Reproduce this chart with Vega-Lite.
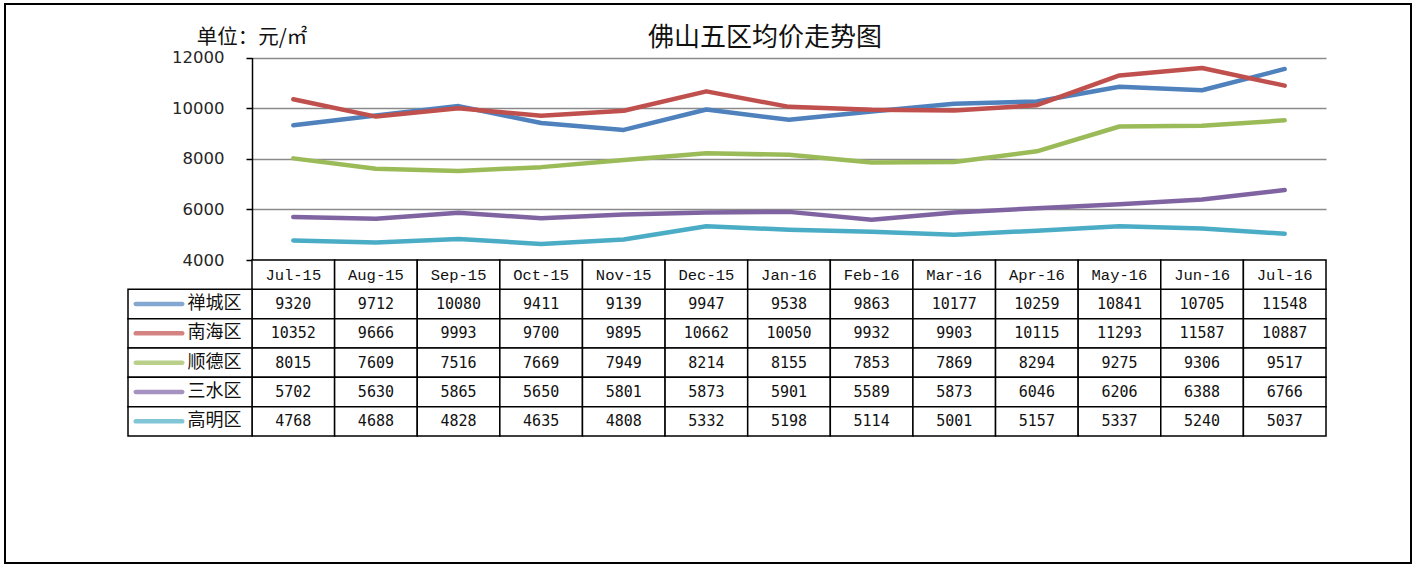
{
  "$schema": "https://vega.github.io/schema/vega-lite/v6.json",
  "width": 1406,
  "height": 559,
  "autosize": {"type": "none"},
  "padding": {"left": 5, "top": 4, "right": 6, "bottom": 2},
  "background": "white",
  "title": {
    "text": "佛山五区均价走势图",
    "font": "Noto Sans CJK SC",
    "fontSize": 26,
    "fontWeight": "normal",
    "color": "#111111",
    "baseline": "middle",
    "offset": -60,
    "dx": 57
  },
  "config": {
    "view": {"stroke": "black", "strokeWidth": 2}
  },
  "datasets": {
    "prices": [
      {"month": "Jul-15", "district": "禅城区", "price": 9320},
      {"month": "Aug-15", "district": "禅城区", "price": 9712},
      {"month": "Sep-15", "district": "禅城区", "price": 10080},
      {"month": "Oct-15", "district": "禅城区", "price": 9411},
      {"month": "Nov-15", "district": "禅城区", "price": 9139},
      {"month": "Dec-15", "district": "禅城区", "price": 9947},
      {"month": "Jan-16", "district": "禅城区", "price": 9538},
      {"month": "Feb-16", "district": "禅城区", "price": 9863},
      {"month": "Mar-16", "district": "禅城区", "price": 10177},
      {"month": "Apr-16", "district": "禅城区", "price": 10259},
      {"month": "May-16", "district": "禅城区", "price": 10841},
      {"month": "Jun-16", "district": "禅城区", "price": 10705},
      {"month": "Jul-16", "district": "禅城区", "price": 11548},
      {"month": "Jul-15", "district": "南海区", "price": 10352},
      {"month": "Aug-15", "district": "南海区", "price": 9666},
      {"month": "Sep-15", "district": "南海区", "price": 9993},
      {"month": "Oct-15", "district": "南海区", "price": 9700},
      {"month": "Nov-15", "district": "南海区", "price": 9895},
      {"month": "Dec-15", "district": "南海区", "price": 10662},
      {"month": "Jan-16", "district": "南海区", "price": 10050},
      {"month": "Feb-16", "district": "南海区", "price": 9932},
      {"month": "Mar-16", "district": "南海区", "price": 9903},
      {"month": "Apr-16", "district": "南海区", "price": 10115},
      {"month": "May-16", "district": "南海区", "price": 11293},
      {"month": "Jun-16", "district": "南海区", "price": 11587},
      {"month": "Jul-16", "district": "南海区", "price": 10887},
      {"month": "Jul-15", "district": "顺德区", "price": 8015},
      {"month": "Aug-15", "district": "顺德区", "price": 7609},
      {"month": "Sep-15", "district": "顺德区", "price": 7516},
      {"month": "Oct-15", "district": "顺德区", "price": 7669},
      {"month": "Nov-15", "district": "顺德区", "price": 7949},
      {"month": "Dec-15", "district": "顺德区", "price": 8214},
      {"month": "Jan-16", "district": "顺德区", "price": 8155},
      {"month": "Feb-16", "district": "顺德区", "price": 7853},
      {"month": "Mar-16", "district": "顺德区", "price": 7869},
      {"month": "Apr-16", "district": "顺德区", "price": 8294},
      {"month": "May-16", "district": "顺德区", "price": 9275},
      {"month": "Jun-16", "district": "顺德区", "price": 9306},
      {"month": "Jul-16", "district": "顺德区", "price": 9517},
      {"month": "Jul-15", "district": "三水区", "price": 5702},
      {"month": "Aug-15", "district": "三水区", "price": 5630},
      {"month": "Sep-15", "district": "三水区", "price": 5865},
      {"month": "Oct-15", "district": "三水区", "price": 5650},
      {"month": "Nov-15", "district": "三水区", "price": 5801},
      {"month": "Dec-15", "district": "三水区", "price": 5873},
      {"month": "Jan-16", "district": "三水区", "price": 5901},
      {"month": "Feb-16", "district": "三水区", "price": 5589},
      {"month": "Mar-16", "district": "三水区", "price": 5873},
      {"month": "Apr-16", "district": "三水区", "price": 6046},
      {"month": "May-16", "district": "三水区", "price": 6206},
      {"month": "Jun-16", "district": "三水区", "price": 6388},
      {"month": "Jul-16", "district": "三水区", "price": 6766},
      {"month": "Jul-15", "district": "高明区", "price": 4768},
      {"month": "Aug-15", "district": "高明区", "price": 4688},
      {"month": "Sep-15", "district": "高明区", "price": 4828},
      {"month": "Oct-15", "district": "高明区", "price": 4635},
      {"month": "Nov-15", "district": "高明区", "price": 4808},
      {"month": "Dec-15", "district": "高明区", "price": 5332},
      {"month": "Jan-16", "district": "高明区", "price": 5198},
      {"month": "Feb-16", "district": "高明区", "price": 5114},
      {"month": "Mar-16", "district": "高明区", "price": 5001},
      {"month": "Apr-16", "district": "高明区", "price": 5157},
      {"month": "May-16", "district": "高明区", "price": 5337},
      {"month": "Jun-16", "district": "高明区", "price": 5240},
      {"month": "Jul-16", "district": "高明区", "price": 5037}
    ],
    "notes": [{"label": "单位：元/㎡"}]
  },
  "layer": [
    {
      "layer": [
        {
          "data": {"name": "prices"},
          "mark": {"type": "line", "strokeWidth": 4.5, "strokeCap": "round", "strokeJoin": "round"},
          "encoding": {
            "x": {
              "field": "month", "type": "ordinal",
              "scale": {"type": "band", "domain": ["Jul-15","Aug-15","Sep-15","Oct-15","Nov-15","Dec-15","Jan-16","Feb-16","Mar-16","Apr-16","May-16","Jun-16","Jul-16"], "range": [247, 1321], "paddingInner": 0, "paddingOuter": 0},
              "axis": null
            },
            "y": {
              "field": "price", "type": "quantitative",
              "scale": {"domain": [4000, 12000], "range": [256, 53.5], "nice": false, "zero": false},
              "axis": {
                "orient": "left", "offset": -247, "title": null, "format": "d",
                "values": [4000, 6000, 8000, 10000, 12000],
                "grid": true, "gridColor": "#8a8a8a", "gridWidth": 1.3,
                "domainColor": "black", "domainWidth": 1.5,
                "tickColor": "black", "tickWidth": 1.5, "tickSize": 6,
                "labelFont": "DejaVu Sans", "labelFontSize": 16.5, "labelColor": "#262626", "labelPadding": 22
              }
            },
            "color": {
              "field": "district", "type": "nominal",
              "scale": {"domain": ["禅城区","南海区","顺德区","三水区","高明区"], "range": ["#4F81BD","#C0504D","#9BBB59","#8064A2","#4BACC6"]},
              "legend": null
            }
          }
        },
        {
          "data": {"name": "notes"},
          "mark": {"type": "text", "font": "Noto Sans CJK SC", "fontSize": 20.5, "color": "#111111", "align": "center", "baseline": "middle", "dy": -20},
          "encoding": {
            "x": {"datum": "Jul-15", "type": "ordinal", "bandPosition": 0},
            "y": {"datum": 12000, "type": "quantitative"},
            "text": {"field": "label"}
          }
        }
      ]
    },
    {
      "data": {"name": "prices"},
      "encoding": {
        "x": {
          "field": "month", "type": "ordinal",
          "scale": {"type": "band", "domain": ["Jul-15","Aug-15","Sep-15","Oct-15","Nov-15","Dec-15","Jan-16","Feb-16","Mar-16","Apr-16","May-16","Jun-16","Jul-16"], "range": [247, 1321], "paddingInner": 0, "paddingOuter": 0},
          "axis": null
        }
      },
      "layer": [
        {
          "mark": {"type": "rect", "fill": "white", "stroke": "black", "strokeWidth": 1.5},
          "encoding": {
            "y": {
              "field": "district", "type": "nominal",
              "scale": {"type": "band", "domain": ["header","禅城区","南海区","顺德区","三水区","高明区"], "range": [256, 432], "paddingInner": 0, "paddingOuter": 0},
              "axis": null
            }
          }
        },
        {
          "transform": [{"filter": "datum.district === '禅城区'"}],
          "mark": {"type": "rect", "fill": "white", "stroke": "black", "strokeWidth": 1.5},
          "encoding": {"y": {"datum": "header", "type": "nominal"}}
        },
        {
          "transform": [{"filter": "datum.district === '禅城区'"}],
          "mark": {"type": "text", "font": "Liberation Mono", "fontSize": 15.5, "color": "#111111"},
          "encoding": {"y": {"datum": "header", "type": "nominal"}, "text": {"field": "month"}}
        },
        {
          "mark": {"type": "text", "font": "DejaVu Sans Mono", "fontSize": 15, "color": "#111111"},
          "encoding": {
            "y": {"field": "district", "type": "nominal"},
            "text": {"field": "price", "type": "quantitative", "format": "d"}
          }
        }
      ]
    },
    {
      "data": {"name": "prices"},
      "transform": [{"filter": "datum.month === 'Jul-15'"}],
      "encoding": {
        "y": {
          "field": "district", "type": "nominal",
          "scale": {"type": "band", "domain": ["header","禅城区","南海区","顺德区","三水区","高明区"], "range": [256, 432], "paddingInner": 0, "paddingOuter": 0},
          "axis": null
        }
      },
      "layer": [
        {
          "mark": {"type": "rect", "fill": "white", "stroke": "black", "strokeWidth": 1.5},
          "encoding": {
            "x": {"datum": 0, "type": "quantitative", "scale": {"domain": [0, 1], "range": [123, 247], "nice": false, "zero": false}, "axis": null},
            "x2": {"datum": 1}
          }
        },
        {
          "mark": {"type": "tick", "orient": "horizontal", "thickness": 4.5, "size": 51, "cornerRadius": 2.2},
          "encoding": {
            "x": {"datum": 0.25, "type": "quantitative"},
            "color": {"field": "district", "type": "nominal", "legend": null}
          }
        },
        {
          "mark": {"type": "text", "font": "Noto Sans CJK SC", "fontSize": 18, "color": "#111111", "align": "left"},
          "encoding": {
            "x": {"datum": 0.48, "type": "quantitative"},
            "text": {"field": "district"}
          }
        }
      ]
    }
  ],
  "resolve": {"scale": {"x": "independent", "y": "independent"}}
}
